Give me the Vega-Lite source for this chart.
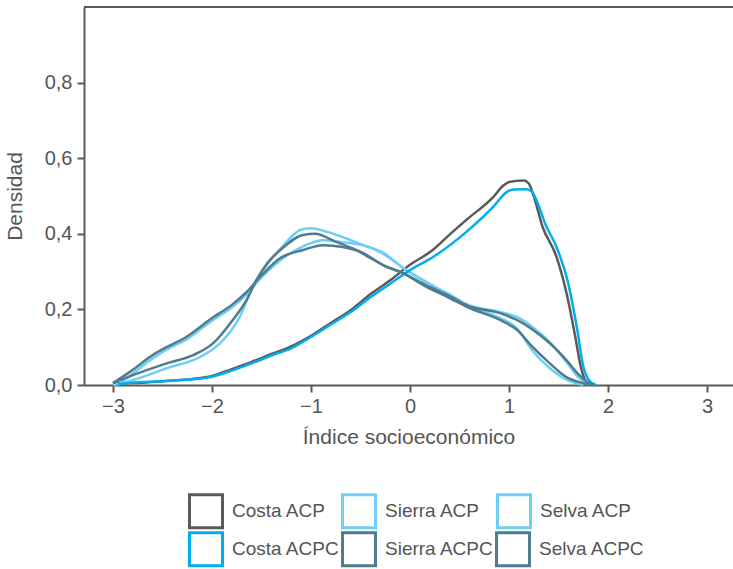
{
  "$schema": "https://vega.github.io/schema/vega-lite/v6.json",
  "width": 649,
  "height": 378,
  "autosize": {"type": "none"},
  "padding": {"left": 84, "top": 7, "right": 0, "bottom": 184},
  "background": "white",
  "config": {
    "font": "Liberation Sans",
    "view": {"stroke": null},
    "axis": {
      "grid": false,
      "domainColor": "#5a5a5a",
      "domainWidth": 2,
      "tickColor": "#5a5a5a",
      "tickWidth": 2,
      "tickSize": 7,
      "labelFontSize": 20,
      "labelColor": "#555555",
      "labelFont": "Liberation Sans",
      "titleFont": "Liberation Sans",
      "titleFontSize": 21,
      "titleFontWeight": "normal",
      "titleColor": "#555555"
    },
    "legend": {
      "labelFont": "Liberation Sans",
      "labelFontSize": 19,
      "labelColor": "#555555",
      "symbolType": "square",
      "symbolSize": 1089,
      "symbolStrokeWidth": 3,
      "symbolFillColor": "white",
      "labelOffset": 8,
      "padding": 0
    }
  },
  "data": {
    "values": [
      {"s":"Costa ACP","x":-3.0,"y":0.004},{"s":"Costa ACP","x":-2.8,"y":0.005},{"s":"Costa ACP","x":-2.5,"y":0.01},{"s":"Costa ACP","x":-2.2,"y":0.016},{"s":"Costa ACP","x":-2.0,"y":0.024},{"s":"Costa ACP","x":-1.8,"y":0.042},{"s":"Costa ACP","x":-1.6,"y":0.061},{"s":"Costa ACP","x":-1.4,"y":0.082},{"s":"Costa ACP","x":-1.2,"y":0.102},{"s":"Costa ACP","x":-1.0,"y":0.13},{"s":"Costa ACP","x":-0.8,"y":0.164},{"s":"Costa ACP","x":-0.6,"y":0.198},{"s":"Costa ACP","x":-0.4,"y":0.24},{"s":"Costa ACP","x":-0.2,"y":0.277},{"s":"Costa ACP","x":0.0,"y":0.318},{"s":"Costa ACP","x":0.23,"y":0.357},{"s":"Costa ACP","x":0.4,"y":0.398},{"s":"Costa ACP","x":0.57,"y":0.437},{"s":"Costa ACP","x":0.84,"y":0.497},{"s":"Costa ACP","x":0.94,"y":0.527},{"s":"Costa ACP","x":1.0,"y":0.537},{"s":"Costa ACP","x":1.15,"y":0.541},{"s":"Costa ACP","x":1.2,"y":0.533},{"s":"Costa ACP","x":1.24,"y":0.508},{"s":"Costa ACP","x":1.34,"y":0.418},{"s":"Costa ACP","x":1.48,"y":0.339},{"s":"Costa ACP","x":1.59,"y":0.233},{"s":"Costa ACP","x":1.67,"y":0.127},{"s":"Costa ACP","x":1.72,"y":0.055},{"s":"Costa ACP","x":1.77,"y":0.012},{"s":"Costa ACP","x":1.82,"y":0.0},

      {"s":"Costa ACPC","x":-2.95,"y":0.003},{"s":"Costa ACPC","x":-2.8,"y":0.006},{"s":"Costa ACPC","x":-2.5,"y":0.01},{"s":"Costa ACPC","x":-2.2,"y":0.015},{"s":"Costa ACPC","x":-2.0,"y":0.022},{"s":"Costa ACPC","x":-1.8,"y":0.038},{"s":"Costa ACPC","x":-1.6,"y":0.057},{"s":"Costa ACPC","x":-1.4,"y":0.078},{"s":"Costa ACPC","x":-1.2,"y":0.097},{"s":"Costa ACPC","x":-1.0,"y":0.127},{"s":"Costa ACPC","x":-0.8,"y":0.16},{"s":"Costa ACPC","x":-0.6,"y":0.193},{"s":"Costa ACPC","x":-0.4,"y":0.232},{"s":"Costa ACPC","x":-0.2,"y":0.268},{"s":"Costa ACPC","x":0.0,"y":0.304},{"s":"Costa ACPC","x":0.23,"y":0.338},{"s":"Costa ACPC","x":0.57,"y":0.405},{"s":"Costa ACPC","x":0.84,"y":0.471},{"s":"Costa ACPC","x":0.98,"y":0.511},{"s":"Costa ACPC","x":1.05,"y":0.517},{"s":"Costa ACPC","x":1.18,"y":0.518},{"s":"Costa ACPC","x":1.23,"y":0.512},{"s":"Costa ACPC","x":1.38,"y":0.418},{"s":"Costa ACPC","x":1.48,"y":0.365},{"s":"Costa ACPC","x":1.59,"y":0.278},{"s":"Costa ACPC","x":1.69,"y":0.146},{"s":"Costa ACPC","x":1.75,"y":0.05},{"s":"Costa ACPC","x":1.81,"y":0.012},{"s":"Costa ACPC","x":1.88,"y":0.0},

      {"s":"Sierra ACP","x":-3.0,"y":0.0},{"s":"Sierra ACP","x":-2.8,"y":0.013},{"s":"Sierra ACP","x":-2.45,"y":0.045},{"s":"Sierra ACP","x":-2.12,"y":0.074},{"s":"Sierra ACP","x":-1.92,"y":0.11},{"s":"Sierra ACP","x":-1.72,"y":0.18},{"s":"Sierra ACP","x":-1.59,"y":0.26},{"s":"Sierra ACP","x":-1.44,"y":0.32},{"s":"Sierra ACP","x":-1.31,"y":0.36},{"s":"Sierra ACP","x":-1.11,"y":0.41},{"s":"Sierra ACP","x":-1.01,"y":0.415},{"s":"Sierra ACP","x":-0.74,"y":0.397},{"s":"Sierra ACP","x":-0.47,"y":0.37},{"s":"Sierra ACP","x":-0.27,"y":0.35},{"s":"Sierra ACP","x":-0.07,"y":0.31},{"s":"Sierra ACP","x":0.13,"y":0.278},{"s":"Sierra ACP","x":0.4,"y":0.238},{"s":"Sierra ACP","x":0.58,"y":0.21},{"s":"Sierra ACP","x":0.91,"y":0.177},{"s":"Sierra ACP","x":1.08,"y":0.15},{"s":"Sierra ACP","x":1.24,"y":0.09},{"s":"Sierra ACP","x":1.41,"y":0.045},{"s":"Sierra ACP","x":1.59,"y":0.013},{"s":"Sierra ACP","x":1.75,"y":0.0},

      {"s":"Sierra ACPC","x":-3.0,"y":0.005},{"s":"Sierra ACPC","x":-2.8,"y":0.026},{"s":"Sierra ACPC","x":-2.45,"y":0.058},{"s":"Sierra ACPC","x":-2.19,"y":0.079},{"s":"Sierra ACPC","x":-1.99,"y":0.11},{"s":"Sierra ACPC","x":-1.79,"y":0.172},{"s":"Sierra ACPC","x":-1.65,"y":0.225},{"s":"Sierra ACPC","x":-1.55,"y":0.278},{"s":"Sierra ACPC","x":-1.44,"y":0.323},{"s":"Sierra ACPC","x":-1.31,"y":0.357},{"s":"Sierra ACPC","x":-1.08,"y":0.397},{"s":"Sierra ACPC","x":-0.96,"y":0.4},{"s":"Sierra ACPC","x":-0.74,"y":0.378},{"s":"Sierra ACPC","x":-0.54,"y":0.357},{"s":"Sierra ACPC","x":-0.4,"y":0.336},{"s":"Sierra ACPC","x":-0.23,"y":0.312},{"s":"Sierra ACPC","x":-0.07,"y":0.296},{"s":"Sierra ACPC","x":0.13,"y":0.265},{"s":"Sierra ACPC","x":0.4,"y":0.23},{"s":"Sierra ACPC","x":0.58,"y":0.206},{"s":"Sierra ACPC","x":0.91,"y":0.172},{"s":"Sierra ACPC","x":1.08,"y":0.146},{"s":"Sierra ACPC","x":1.24,"y":0.1},{"s":"Sierra ACPC","x":1.41,"y":0.058},{"s":"Sierra ACPC","x":1.58,"y":0.021},{"s":"Sierra ACPC","x":1.75,"y":0.005},{"s":"Sierra ACPC","x":1.82,"y":0.0},

      {"s":"Selva ACP","x":-2.95,"y":0.0},{"s":"Selva ACP","x":-2.8,"y":0.03},{"s":"Selva ACP","x":-2.6,"y":0.07},{"s":"Selva ACP","x":-2.45,"y":0.095},{"s":"Selva ACP","x":-2.26,"y":0.12},{"s":"Selva ACP","x":-2.0,"y":0.17},{"s":"Selva ACP","x":-1.8,"y":0.205},{"s":"Selva ACP","x":-1.65,"y":0.24},{"s":"Selva ACP","x":-1.5,"y":0.285},{"s":"Selva ACP","x":-1.31,"y":0.33},{"s":"Selva ACP","x":-1.08,"y":0.367},{"s":"Selva ACP","x":-0.88,"y":0.383},{"s":"Selva ACP","x":-0.68,"y":0.378},{"s":"Selva ACP","x":-0.48,"y":0.37},{"s":"Selva ACP","x":-0.27,"y":0.347},{"s":"Selva ACP","x":-0.07,"y":0.31},{"s":"Selva ACP","x":0.13,"y":0.275},{"s":"Selva ACP","x":0.4,"y":0.24},{"s":"Selva ACP","x":0.58,"y":0.213},{"s":"Selva ACP","x":0.91,"y":0.193},{"s":"Selva ACP","x":1.08,"y":0.18},{"s":"Selva ACP","x":1.24,"y":0.153},{"s":"Selva ACP","x":1.41,"y":0.114},{"s":"Selva ACP","x":1.58,"y":0.061},{"s":"Selva ACP","x":1.71,"y":0.018},{"s":"Selva ACP","x":1.8,"y":0.0},

      {"s":"Selva ACPC","x":-3.0,"y":0.005},{"s":"Selva ACPC","x":-2.8,"y":0.04},{"s":"Selva ACPC","x":-2.6,"y":0.079},{"s":"Selva ACPC","x":-2.46,"y":0.1},{"s":"Selva ACPC","x":-2.26,"y":0.127},{"s":"Selva ACPC","x":-2.0,"y":0.177},{"s":"Selva ACPC","x":-1.8,"y":0.212},{"s":"Selva ACPC","x":-1.65,"y":0.246},{"s":"Selva ACPC","x":-1.5,"y":0.29},{"s":"Selva ACPC","x":-1.31,"y":0.336},{"s":"Selva ACPC","x":-1.08,"y":0.357},{"s":"Selva ACPC","x":-0.88,"y":0.37},{"s":"Selva ACPC","x":-0.68,"y":0.365},{"s":"Selva ACPC","x":-0.48,"y":0.35},{"s":"Selva ACPC","x":-0.27,"y":0.317},{"s":"Selva ACPC","x":-0.07,"y":0.296},{"s":"Selva ACPC","x":0.13,"y":0.268},{"s":"Selva ACPC","x":0.4,"y":0.235},{"s":"Selva ACPC","x":0.58,"y":0.21},{"s":"Selva ACPC","x":0.91,"y":0.19},{"s":"Selva ACPC","x":1.08,"y":0.172},{"s":"Selva ACPC","x":1.24,"y":0.146},{"s":"Selva ACPC","x":1.41,"y":0.111},{"s":"Selva ACPC","x":1.58,"y":0.066},{"s":"Selva ACPC","x":1.71,"y":0.026},{"s":"Selva ACPC","x":1.81,"y":0.005},{"s":"Selva ACPC","x":1.86,"y":0.0}
    ]
  },
  "layer": [
    {
      "transform": [{"filter": "indexof(datum.s, 'ACPC') < 0"}],
      "mark": {"type": "line", "interpolate": "monotone", "strokeWidth": 2.5},
      "encoding": {
        "x": {
          "field": "x", "type": "quantitative",
          "scale": {"domain": [-3.293, 3.263], "nice": false, "zero": false},
          "axis": {"title": "Índice socioeconómico", "values": [-3, -2, -1, 0, 1, 2, 3], "format": "d", "labelPadding": 4, "titlePadding": 10}
        },
        "y": {
          "field": "y", "type": "quantitative",
          "scale": {"domain": [0, 1], "nice": false},
          "axis": {"title": "Densidad", "values": [0, 0.2, 0.4, 0.6, 0.8], "labelExpr": "replace(format(datum.value, '.1f'), '.', ',')", "labelPadding": 5, "titlePadding": 19}
        },
        "color": {
          "field": "s", "type": "nominal",
          "scale": {
            "domain": ["Costa ACP", "Sierra ACP", "Selva ACP"],
            "range": ["#5a5a5a", "#6dcff6", "#6dcff6"]
          },
          "legend": {
            "title": null,
            "orient": "none",
            "legendX": 104,
            "legendY": 486,
            "columns": 3,
            "columnPadding": 10
          }
        }
      }
    },
    {
      "transform": [{"filter": "indexof(datum.s, 'ACPC') >= 0"}],
      "mark": {"type": "line", "interpolate": "monotone", "strokeWidth": 2.5},
      "encoding": {
        "x": {"field": "x", "type": "quantitative"},
        "y": {"field": "y", "type": "quantitative"},
        "stroke": {
          "field": "s", "type": "nominal",
          "scale": {
            "domain": ["Costa ACPC", "Sierra ACPC", "Selva ACPC"],
            "range": ["#00aeef", "#4f7c8f", "#4f7c8f"]
          },
          "legend": {
            "title": null,
            "orient": "none",
            "legendX": 104,
            "legendY": 524,
            "columns": 3,
            "columnPadding": -4
          }
        }
      }
    },
    {
      "data": {"values": [{}]},
      "mark": {"type": "rule", "color": "#5a5a5a", "strokeWidth": 2},
      "encoding": {"y": {"datum": 1}}
    }
  ]
}
